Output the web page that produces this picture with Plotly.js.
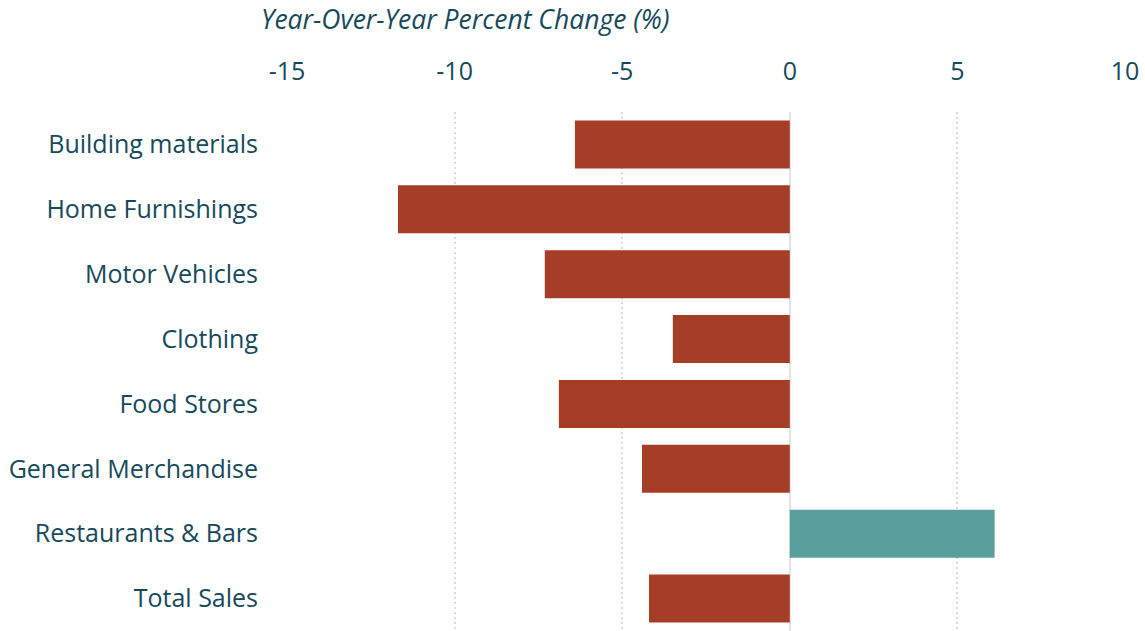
<!DOCTYPE html>
<html>
<head>
<meta charset="utf-8">
<script src="https://cdn.plot.ly/plotly-3.0.1.min.js"></script>
<style>html,body{margin:0;padding:0;background:#fff;}#chart{width:1145px;height:631px;}</style>
</head>
<body>
<div id="chart"></div>
<script>
const categories = ["Building materials","Home Furnishings","Motor Vehicles","Clothing","Food Stores","General Merchandise","Restaurants & Bars","Total Sales"];
const values = [-6.41,-11.69,-7.31,-3.49,-6.89,-4.41,6.11,-4.2];
const tickValues = [-15,-10,-5,0,5,10];
const tickLabels = ["-15","-10","-5","0","5","10"];

const NEG = "#a63d27", POS = "#589f9e", TXT = "#164a5b";
const FONT = "Open Sans, Noto Sans, sans-serif";

const trace = {
  type: "bar",
  orientation: "h",
  y: categories,
  x: values,
  marker: {color: values.map(v => v < 0 ? NEG : POS)},
  hoverinfo: "x+y"
};

const layout = {
  width: 1145, height: 631,
  margin: {l: 287, r: 20, t: 112, b: 0, pad: 0},
  paper_bgcolor: "#fff", plot_bgcolor: "#fff",
  bargap: 0.26,
  showlegend: false,
  font: {family: FONT, color: TXT},
  title: {
    text: "<i>Year-Over-Year Percent Change (%)</i>",
    font: {family: FONT, size: 26.5, color: TXT},
    x: 261/1145, xanchor: "left", xref: "container",
    y: 1 - 20/631, yanchor: "middle", yref: "container"
  },
  xaxis: {
    side: "top",
    range: [-15, 10],
    tickvals: tickValues,
    ticktext: tickLabels,
    tickfont: {family: FONT, size: 25, color: TXT},
    ticks: "outside", ticklen: 21, tickcolor: "rgba(0,0,0,0)",
    showgrid: true, gridcolor: "#dadada", gridwidth: 2, griddash: "2px,3px",
    zeroline: true, zerolinecolor: "#e4e4e4", zerolinewidth: 2,
    showline: false, fixedrange: true
  },
  yaxis: {
    autorange: "reversed",
    tickfont: {family: FONT, size: 25, color: TXT},
    ticks: "outside", ticklen: 23, tickcolor: "rgba(0,0,0,0)",
    showgrid: false, zeroline: false, showline: false, fixedrange: true
  }
};

Plotly.newPlot("chart", [trace], layout, {displayModeBar: false, staticPlot: true});
</script>
</body>
</html>
